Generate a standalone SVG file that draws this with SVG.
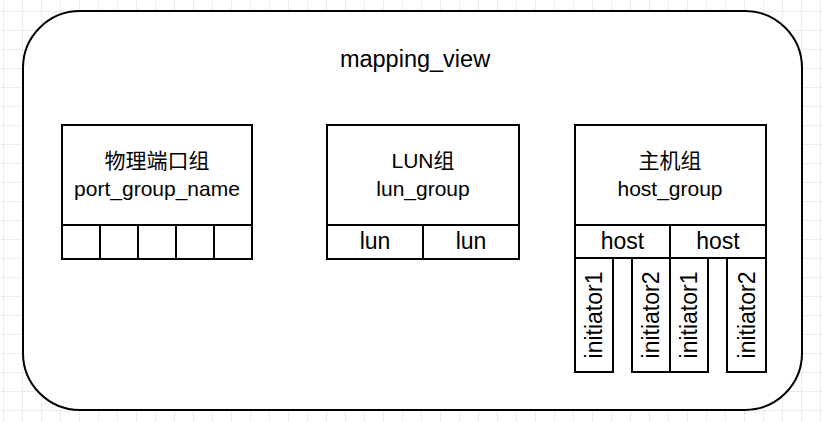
<svg xmlns="http://www.w3.org/2000/svg" width="822" height="422" viewBox="0 0 822 422">
  <defs>
    <pattern id="grid" x="3" y="11" width="19" height="19" patternUnits="userSpaceOnUse">
      <path d="M0 0.5H19M0.5 0V19" fill="none" stroke="#ececec" stroke-width="1"/>
    </pattern>
  </defs>
  <style>
    .box { fill: #ffffff; stroke: #000000; stroke-width: 2; }
    .ln { fill: none; stroke: #000000; stroke-width: 2; }
    .t { font-family: "Liberation Sans", Arial, "Noto Sans CJK SC", sans-serif; font-size: 21px; fill: #000000; text-anchor: middle; }
    .big { font-size: 23.5px; }
    .s { font-size: 23px; }
    .r { dominant-baseline: central; }
  </style>
  <rect x="0" y="0" width="822" height="422" fill="#ffffff"/>
  <rect x="0" y="0" width="822" height="422" fill="url(#grid)"/>

  <g id="mapping_view">
    <rect class="box" x="23" y="11" width="779" height="399" rx="57" ry="57"/>
    <text class="t big" x="415" y="67">mapping_view</text>
  </g>

  <g id="port_group">
    <rect class="box" x="62" y="125" width="190" height="134"/>
    <path class="ln" d="M62 225H252M100 225V259M138 225V259M176 225V259M214 225V259"/>
    <text class="t" x="157" y="168">物理端口组</text>
    <text class="t" x="157" y="196">port_group_name</text>
  </g>

  <g id="lun_group">
    <rect class="box" x="327" y="125" width="192" height="134"/>
    <path class="ln" d="M327 225H519M423 225V259"/>
    <text class="t" x="423" y="168">LUN组</text>
    <text class="t" x="423" y="196">lun_group</text>
    <text class="t s" x="375" y="249">lun</text>
    <text class="t s" x="471" y="249">lun</text>
  </g>

  <g id="host_group">
    <rect class="box" x="575" y="125" width="191" height="133"/>
    <path class="ln" d="M575 225H766M670 225V258"/>
    <text class="t" x="670" y="168">主机组</text>
    <text class="t" x="670" y="196">host_group</text>
    <text class="t s" x="622.5" y="249">host</text>
    <text class="t s" x="718" y="249">host</text>
  </g>

  <g id="initiator_1a">
    <rect class="box" x="575" y="258" width="38" height="114"/>
    <text class="t s r" transform="translate(594 315) rotate(-90)" x="0" y="0">initiator1</text>
  </g>
  <g id="initiator_2a">
    <rect class="box" x="632" y="258" width="38" height="114"/>
    <text class="t s r" transform="translate(651 315) rotate(-90)" x="0" y="0">initiator2</text>
  </g>
  <g id="initiator_1b">
    <rect class="box" x="670" y="258" width="38" height="114"/>
    <text class="t s r" transform="translate(689 315) rotate(-90)" x="0" y="0">initiator1</text>
  </g>
  <g id="initiator_2b">
    <rect class="box" x="727" y="258" width="39" height="114"/>
    <text class="t s r" transform="translate(746.5 315) rotate(-90)" x="0" y="0">initiator2</text>
  </g>

  <g id="connectors"></g>
</svg>
